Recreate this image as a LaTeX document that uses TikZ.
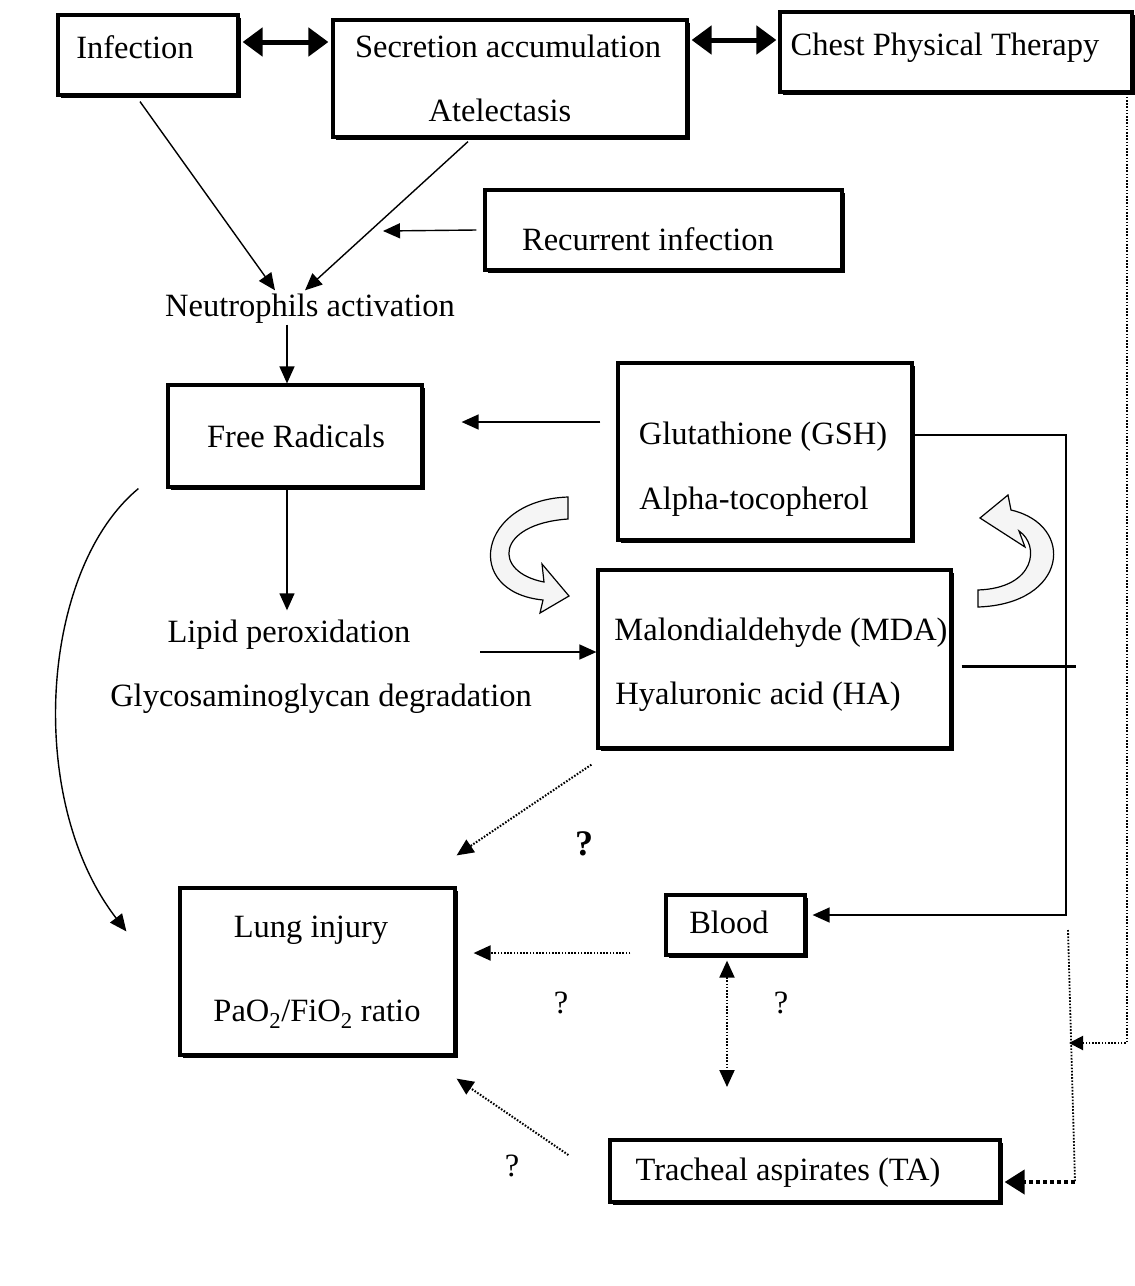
\documentclass[tikz,border=0pt]{standalone}
\usepackage{fontspec}
\setmainfont{Liberation Serif}
\usetikzlibrary{arrows.meta,shadows}
\begin{document}
\begin{tikzpicture}[x=1pt,y=-1pt,font=\fontsize{32.5}{38}\selectfont,
  box/.style={draw,fill=white,line width=3.2pt,inner sep=0pt,
    drop shadow={shadow xshift=2.5pt,shadow yshift=-2.5pt,fill=black,opacity=1}},
  txt/.style={inner sep=2pt,text height=0.7em,text depth=0.2em,yshift=-8pt},
  arr/.style={line width=1.4pt,-{Triangle[length=17pt,width=15pt]}},
  dotarr/.style={line width=2pt,dash pattern=on 1.6pt off 1.6pt,-{Triangle[length=17pt,width=15pt]}},
  dbl/.style={line width=5pt,{Triangle[length=20pt,width=28pt]}-{Triangle[length=20pt,width=28pt]}},
  curl/.style={draw,line width=1.2pt,fill=gray!8}]
\useasboundingbox (0,0) rectangle (1135,1286);

\node[box,minimum width=180pt,minimum height=80pt] (inf) at (148,55) {};
\node[box,minimum width=354pt,minimum height=117pt] (sec) at (510,78.5) {};
\node[box,minimum width=352pt,minimum height=80pt] (cpt) at (956,52) {};
\node[box,minimum width=357pt,minimum height=80pt] (rec) at (663.5,230) {};
\node[box,minimum width=254pt,minimum height=102pt] (fr) at (295,436) {};
\node[box,minimum width=294pt,minimum height=177pt] (gsh) at (765,451.5) {};
\node[box,minimum width=353pt,minimum height=178pt] (mda) at (774.5,659) {};
\node[box,minimum width=275pt,minimum height=167pt] (lung) at (317.5,971.5) {};
\node[box,minimum width=139pt,minimum height=60pt] (blood) at (735.5,925) {};
\node[box,minimum width=390pt,minimum height=62pt] (ta) at (805,1171) {};

\node[txt] (tinf) at (135,48) {Infection};
\node[txt] (tsec) at (508,47) {Secretion accumulation};
\node[txt] (tatel) at (500,111) {Atelectasis};
\node[txt] (tcpt) at (945,45) {Chest Physical Therapy};
\node[txt] (trec) at (648,240) {Recurrent infection};
\node[txt] (neu) at (310,306) {Neutrophils activation};
\node[txt] (tfr) at (296,437) {Free Radicals};
\node[txt] (tgsh) at (763,434) {Glutathione (GSH)};
\node[txt] (ttoc) at (754,499) {Alpha-tocopherol};
\node[txt] (lip) at (289,632) {Lipid peroxidation};
\node[txt] (gag) at (321,696) {Glycosaminoglycan degradation};
\node[txt] (tmda) at (781,630) {Malondialdehyde (MDA)};
\node[txt] (tha) at (758,694) {Hyaluronic acid (HA)};
\node[txt] (tlung) at (311,927) {Lung injury};
\node[txt] (tratio) at (317,1011) {PaO\textsubscript{2}/FiO\textsubscript{2} ratio};
\node[txt] (tblood) at (729,923) {Blood};
\node[txt] (tta) at (788,1170) {Tracheal aspirates (TA)};
\node[txt,font=\fontsize{36}{40}\selectfont\bfseries] (q1) at (584,845) {?};
\node[txt] (q2) at (561,1003) {?};
\node[txt] (q3) at (781,1003) {?};
\node[txt] (q4) at (512,1166) {?};

\coordinate (recend) at (383,231);
\coordinate (lm) at (480,652);
\coordinate (bd) at (727,1087);
\coordinate (rb) at (1066,915);
\coordinate (rb2) at (1068,930);
\coordinate (rm) at (1076,666);
\coordinate (rt) at (1075,1182);
\coordinate (cj) at (1069,1043);

\draw[dbl] ([xshift=3pt,yshift=13pt]inf.east) -- ([xshift=-3pt,yshift=36.5pt]sec.west);
\draw[dbl] ([xshift=3pt,yshift=38.5pt]sec.east) -- ([xshift=-2pt,yshift=12pt]cpt.west);
\draw[arr] ([xshift=-7pt]rec.west) -- (recend);
\draw[arr] ([xshift=-8pt,yshift=-5pt]inf.south) -- ([xshift=-35pt,yshift=17pt]neu.north);
\draw[arr] ([xshift=-42pt,yshift=-3pt]sec.south) -- ([xshift=-5pt,yshift=17pt]neu.north);
\draw[arr,shorten <=4pt] ([xshift=-23pt]neu.south) -- ([xshift=-8pt]fr.north);
\draw[arr] ([xshift=-16pt,yshift=29.5pt]gsh.west) -- ([xshift=38pt,yshift=14pt]fr.east);
\draw[arr,shorten >=23pt] ([xshift=-8pt]fr.south) -- ([xshift=-2pt]lip.north);
\draw[arr] (lm) -- ([yshift=7pt]mda.west);
\draw[arr] ([xshift=-28pt]fr.south west) .. controls (40,570) and (25,800) .. ([xshift=-52pt,yshift=-45pt]lung.north west);

\draw[dotarr] ([xshift=-5pt,yshift=-15pt]mda.south west) -- ([yshift=31pt]lung.north east);
\draw[dotarr] ([xshift=-34pt,yshift=-28pt]blood.west) -- ([xshift=17pt,yshift=18.5pt]lung.east);
\draw[dotarr,{Triangle[length=17pt,width=15pt]}-{Triangle[length=17pt,width=15pt]}] ([xshift=-8.5pt,yshift=-4pt]blood.south) -- (bd);
\draw[dotarr] ([xshift=-40pt,yshift=16pt]ta.west) -- ([yshift=-22pt]lung.south east);

% right hand side
\draw[arr] ([yshift=16.5pt]gsh.east) -| (rb) -- ([xshift=6pt,yshift=10pt]blood.east);
\draw[line width=3pt] ([xshift=9pt,yshift=-7pt]mda.east) -- (rm);
\draw[line width=1.8pt,dash pattern=on 1.6pt off 1.6pt] (rb2) -- (rt);
\draw[line width=4pt,dash pattern=on 4pt off 3pt,-{Triangle[length=20pt,width=24pt]}] (rt) -- ([xshift=3pt,yshift=-11pt]ta.east);
\draw[dotarr,-{Triangle[length=14pt,width=14pt]}] ([xshift=-7pt]cpt.south east) |- (cj);

% curled block arrows
\path[curl] (568,497) .. controls (478,500) and (462,592) .. (543,600) -- (540,613) -- (569,596)
  -- (542,564) -- (544,582) .. controls (492,572) and (496,524) .. (568,519) -- cycle;
\path[curl] (978,590) .. controls (1036,588) and (1040,545) .. (1019,531) -- (1025,547) -- (980,518)
  -- (1008,495) -- (1011,510) .. controls (1076,525) and (1068,604) .. (978,607) -- cycle;
\end{tikzpicture}
\end{document}
